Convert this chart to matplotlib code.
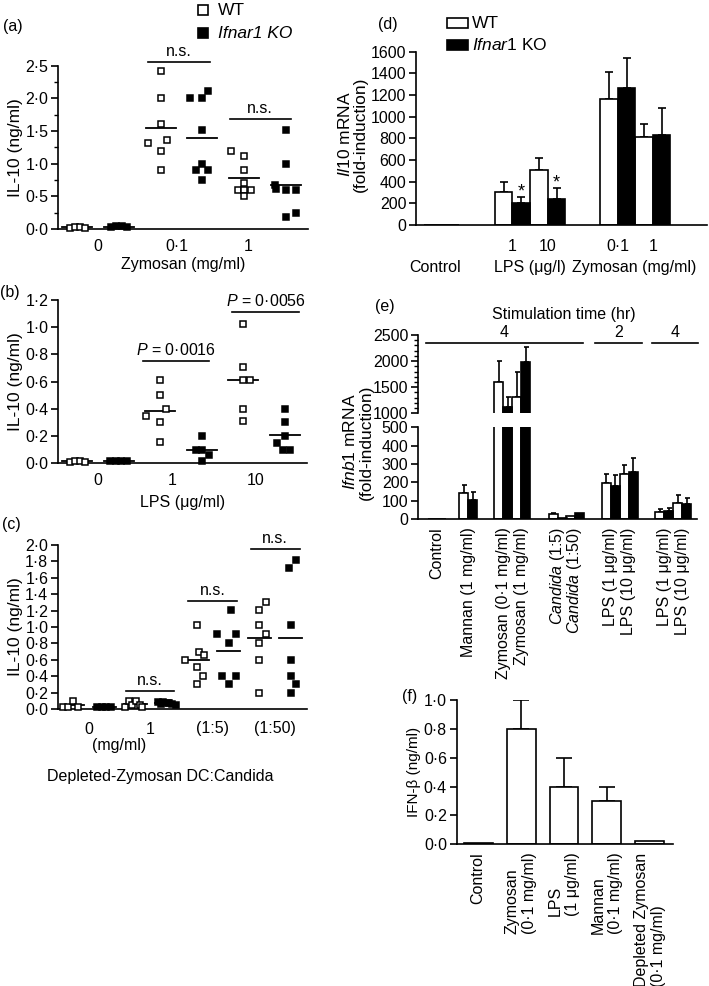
import numpy as np
import matplotlib
matplotlib.use('Agg')
import matplotlib.pyplot as plt
from matplotlib.patches import Rectangle
from matplotlib.ticker import MultipleLocator, FuncFormatter

plt.rcParams['font.family'] = ['Liberation Sans', 'DejaVu Sans']
plt.rcParams['font.size'] = 11.5
plt.rcParams['mathtext.fontset'] = 'custom'
plt.rcParams['mathtext.rm'] = 'Liberation Sans'
plt.rcParams['mathtext.it'] = 'Liberation Sans:italic'
plt.rcParams['axes.linewidth'] = 1.2

# ---------------- datos ----------------
# (a) IL-10 (ng/ml), zymosan
a_ticks = ['0', '0·1', '1']
a_wt = [[0.02, 0.03, 0.03, 0.02],
        [2.42, 2.01, 1.61, 1.31, 1.36, 1.20, 0.90],
        [1.20, 1.11, 0.90, 0.70, 0.60, 0.60, 0.60, 0.50]]
a_wt_dx = [[-0.18, -0.06, 0.06, 0.18],
           [0, 0, 0, -0.31, 0.15, 0, 0],
           [-0.31, 0, 0, 0, -0.15, 0, 0.16, 0]]
a_ko = [[0.03, 0.04, 0.04, 0.03],
        [2.01, 2.01, 2.11, 1.51, 0.90, 0.99, 0.90, 0.75],
        [1.51, 1.00, 0.68, 0.62, 0.60, 0.60, 0.19, 0.25]]
a_ko_dx = [[-0.2, -0.07, 0.07, 0.2],
           [-0.3, 0, 0.15, 0, -0.14, 0, 0.15, 0],
           [0, 0, -0.25, -0.22, 0, 0.24, 0, 0.24]]

# (b) IL-10 (ng/ml), LPS
b_ticks = ['0', '1', '10']
b_wt = [[0.01, 0.02, 0.02, 0.01],
        [0.61, 0.50, 0.35, 0.40, 0.30, 0.16],
        [1.02, 0.71, 0.61, 0.61, 0.40, 0.31]]
b_wt_dx = [[-0.18, -0.06, 0.06, 0.18],
           [0, 0, -0.33, 0.14, 0, 0],
           [0, 0, 0, 0.16, 0, 0]]
b_ko = [[0.015, 0.02, 0.02, 0.015],
        [0.20, 0.10, 0.10, 0.06, 0.02],
        [0.40, 0.30, 0.20, 0.15, 0.10, 0.10]]
b_ko_dx = [[-0.2, -0.07, 0.07, 0.2],
           [0, -0.14, 0.02, 0.17, 0],
           [0, 0, 0, -0.19, -0.03, 0.14]]

# (c) IL-10 (ng/ml), depleted zymosan / Candida
c_ticks = ['0', '1', '(1:5)', '(1:50)']
c_wt = [[0.02, 0.03, 0.10, 0.03],
        [0.03, 0.10, 0.05, 0.10, 0.05, 0.03],
        [1.02, 0.70, 0.66, 0.60, 0.51, 0.40, 0.30],
        [1.21, 1.31, 1.02, 0.91, 0.81, 0.60, 0.20]]
c_wt_dx = [[-0.32, -0.16, 0, 0.16],
           [-0.32, -0.21, -0.11, 0.03, 0.16, 0.22],
           [0, 0.04, 0.22, -0.41, 0, 0.19, 0],
           [0, 0.21, 0, 0.21, 0, 0, 0]]
c_ko = [[0.02, 0.02, 0.02, 0.02],
        [0.09, 0.08, 0.07, 0.06, 0.05, 0.06, 0.07],
        [0.91, 0.91, 0.81, 1.21, 0.40, 0.40, 0.30],
        [1.82, 1.72, 1.02, 0.60, 0.40, 0.30, 0.20]]
c_ko_dx = [[-0.24, -0.08, 0.08, 0.24],
           [-0.25, -0.1, 0.05, 0.18, 0.3, -0.18, 0.1],
           [-0.38, 0.25, 0.03, 0.08, -0.22, 0.25, 0.03],
           [0.18, -0.05, 0, 0, 0, 0.18, 0]]

# (d) Il10 mRNA (fold-induction)
d_groups = ['Control', 'LPS 1', 'LPS 10', 'Zymosan 0.1', 'Zymosan 1']
d_ticks = ['', '1', '10', '0·1', '1']
d_wt = [0, 302, 508, 1163, 815]
d_wt_err = [0, 98, 114, 252, 117]
d_ko = [0, 206, 237, 1268, 831]
d_ko_err = [0, 56, 108, 270, 246]
d_star = [False, True, True, False, False]

# (e) Ifnb1 mRNA (fold-induction)
e_labels = ['Control', 'Mannan (1 mg/ml)', 'Zymosan (0·1 mg/ml)',
            'Zymosan (1 mg/ml)', r'$\it{Candida}$ (1:5)', r'$\it{Candida}$ (1:50)',
            'LPS (1 μg/ml)', 'LPS (10 μg/ml)', 'LPS (1 μg/ml)', 'LPS (10 μg/ml)']
e_wt = [0, 140, 1606, 1306, 25, 18, 198, 245, 38, 87]
e_wt_err = [0, 45, 396, 492, 6, 0, 46, 50, 17, 44]
e_ko = [0, 104, 1128, 1989, 4, 35, 180, 256, 45, 80]
e_ko_err = [0, 45, 191, 288, 0, 0, 60, 79, 17, 33]
e_times = ['4', '2', '4']

# (f) IFN-beta (ng/ml)
f_labels = ['Control', 'Zymosan\n(0·1 mg/ml)', 'LPS\n(1 μg/ml)',
            'Mannan\n(0·1 mg/ml)', 'Depleted Zymosan\n(0·1 mg/ml)']
f_vals = [0.01, 0.80, 0.40, 0.30, 0.02]
f_err = [0, 0.20, 0.20, 0.10, 0]

# ---------------- figura ----------------
W, H = 709, 986
fig = plt.figure(figsize=(W / 100, H / 100), dpi=100)


def ejes(l, t, r, b):
    return fig.add_axes([l / W, 1 - b / H, (r - l) / W, (b - t) / H])


def estilo(ax, xpad=7):
    for s in ['top', 'right']:
        ax.spines[s].set_visible(False)
    ax.tick_params(axis='y', which='major', direction='out', length=5, width=1.2, pad=2)
    ax.tick_params(axis='y', which='minor', direction='out', length=3, width=1.0)
    ax.tick_params(axis='x', length=0, pad=xpad)


punto = FuncFormatter(lambda v, p: f'{v:.1f}'.replace('.', '·'))


def dispersion(ax, wt, wt_dx, ko, ko_dx, half):
    for i in range(len(wt)):
        for j, (vals, dx, fc) in enumerate([(wt[i], wt_dx[i], 'white'), (ko[i], ko_dx[i], 'black')]):
            c = 2 * i + 1 + j
            ax.plot(c + np.array(dx), vals, 's', ms=4.3, mfc=fc, mec='black', mew=1.1,
                    clip_on=False, zorder=3)
            m = np.mean(vals)
            ax.plot([c - half, c + half], [m, m], color='black', lw=1.3, zorder=2, clip_on=False)


def barra_sig(ax, x0, x1, y, txt):
    ax.plot([x0, x1], [y, y], color='black', lw=1.2, clip_on=False)
    ax.annotate(txt, xy=((x0 + x1) / 2, y), xytext=(0, 2), textcoords='offset points',
                ha='center', va='bottom', annotation_clip=False)


# (a)
ax = ejes(58, 65.7, 308, 229)
estilo(ax)
dispersion(ax, a_wt, a_wt_dx, a_ko, a_ko_dx, 0.36)
ax.set_xlim(0.54, 6.54)
ax.set_ylim(0, 2.5)
ax.yaxis.set_major_locator(MultipleLocator(0.5))
ax.yaxis.set_minor_locator(MultipleLocator(0.25))
ax.yaxis.set_major_formatter(punto)
ax.set_xticks([1.5, 3.4, 5.1], a_ticks)
ax.set_xlabel('Zymosan (mg/ml)', labelpad=2)
ax.set_ylabel('IL-10 (ng/ml)', fontsize=12.5)
ax.yaxis.set_label_coords(-0.14, 0.5)
barra_sig(ax, 2.71, 4.18, 2.56, 'n.s.')
barra_sig(ax, 4.66, 6.12, 1.68, 'n.s.')
ax.plot([0.58], [1.34], 's', ms=6.5, mfc='white', mec='black', mew=1.2,
        transform=ax.transAxes, clip_on=False)
ax.plot([0.58], [1.20], 's', ms=6.5, mfc='black', mec='black', mew=1.2,
        transform=ax.transAxes, clip_on=False)
ax.text(0.64, 1.34, 'WT', transform=ax.transAxes, va='center', fontsize=12.5)
ax.text(0.64, 1.20, 'Ifnar1 KO', transform=ax.transAxes, va='center', fontsize=12.5, style='italic')

# (b)
ax = ejes(58, 300, 307, 463.3)
estilo(ax)
dispersion(ax, b_wt, b_wt_dx, b_ko, b_ko_dx, 0.36)
ax.set_xlim(0.54, 6.54)
ax.set_ylim(0, 1.2)
ax.yaxis.set_major_locator(MultipleLocator(0.2))
ax.yaxis.set_major_formatter(punto)
ax.set_xticks([1.5, 3.3, 5.3], b_ticks)
ax.set_xlabel('LPS (μg/ml)', labelpad=5)
ax.set_ylabel('IL-10 (ng/ml)', fontsize=12.5)
ax.yaxis.set_label_coords(-0.14, 0.5)
barra_sig(ax, 2.59, 4.19, 0.75, r'$\it{P}$ = 0·0016')
barra_sig(ax, 4.74, 6.35, 1.11, r'$\it{P}$ = 0·0056')

# (c)
ax = ejes(58, 545, 307, 709)
estilo(ax, xpad=9)
dispersion(ax, c_wt, c_wt_dx, c_ko, c_ko_dx, 0.37)
ax.set_xlim(0.52, 8.53)
ax.set_ylim(0, 2.0)
ax.yaxis.set_major_locator(MultipleLocator(0.2))
ax.yaxis.set_major_formatter(punto)
ax.set_xticks([1.5, 3.5, 5.5, 7.5], c_ticks)
ax.set_ylabel('IL-10 (ng/ml)', fontsize=12.5)
ax.yaxis.set_label_coords(-0.14, 0.5)
ax.text(2.5, -0.22, '(mg/ml)', transform=ax.get_xaxis_transform(), ha='center', va='center')
ax.text(0.41, -0.41, 'Depleted-Zymosan DC:Candida', transform=ax.transAxes,
        ha='center', va='center')
barra_sig(ax, 2.70, 4.25, 0.22, 'n.s.')
barra_sig(ax, 4.71, 6.29, 1.32, 'n.s.')
barra_sig(ax, 6.72, 8.29, 1.95, 'n.s.')


def barras(ax, x, wt, wt_err, ko, ko_err, cap):
    x = np.array(x, dtype=float)
    ax.bar(x - 0.5, wt, width=1, color='white', edgecolor='black', lw=1.2, zorder=2)
    ax.bar(x + 0.5, ko, width=1, color='black', edgecolor='black', lw=1.2, zorder=2)
    for xs, v, e in [(x - 0.5, wt, wt_err), (x + 0.5, ko, ko_err)]:
        v = np.array(v, dtype=float)
        e = np.array(e, dtype=float)
        k = e > 0
        ax.errorbar(xs[k], v[k], yerr=[np.zeros(k.sum()), e[k]], fmt='none', ecolor='black',
                    elinewidth=1.2, capsize=cap, capthick=1.2, zorder=1)


# (d)
d_x = [-4, 0, 2, 5.95, 7.93]
ax = ejes(416, 51.7, 707, 225)
estilo(ax, xpad=10)
barras(ax, d_x, d_wt, d_wt_err, d_ko, d_ko_err, 3)
ax.set_xlim(-5.45, 11.0)
ax.set_ylim(0, 1600)
ax.yaxis.set_major_locator(MultipleLocator(200))
ax.set_xticks(d_x[1:], d_ticks[1:])
for xx, lab in [(-4.4, 'Control'), (1.0, 'LPS (μg/l)'), (6.9, 'Zymosan (mg/ml)')]:
    ax.text(xx, -0.243, lab, transform=ax.get_xaxis_transform(), ha='center', va='center')
for i, s in enumerate(d_star):
    if s:
        ax.text(d_x[i] + 0.5, d_ko[i] + d_ko_err[i], '*', ha='center', va='baseline', fontsize=13)
fig.text(345 / W, 1 - 134 / H, r'$\it{Il10}$ mRNA', rotation=90, ha='center', va='center', fontsize=12.5)
fig.text(360 / W, 1 - 134 / H, '(fold-induction)', rotation=90, ha='center', va='center', fontsize=12.5)
fig.add_artist(Rectangle((447 / W, 1 - 28 / H), 21 / W, 10 / H, transform=fig.transFigure,
                         fc='white', ec='black', lw=1.2))
fig.add_artist(Rectangle((447 / W, 1 - 50 / H), 21 / W, 10 / H, transform=fig.transFigure,
                         fc='black', ec='black', lw=1.2))
fig.text(472 / W, 1 - 23 / H, 'WT', va='center', fontsize=12.5)
fig.text(472 / W, 1 - 45 / H, r'$\it{Ifnar1}$ KO', va='center', fontsize=12.5)

# (e) eje partido
e_x = [0, 3.5, 7.4, 9.35, 13.4, 15.3, 19.3, 21.3, 25.2, 27.2]
ax_u = ejes(418, 335, 697, 413.3)
ax_l = ejes(418, 427.3, 697, 519)
for ax in (ax_u, ax_l):
    estilo(ax, xpad=6)
    barras(ax, e_x, e_wt, e_wt_err, e_ko, e_ko_err, 1.8)
    ax.set_xlim(-2.07, 28.85)
ax_u.spines['bottom'].set_visible(False)
ax_u.set_xticks([])
ax_u.set_ylim(1000, 2500)
ax_u.yaxis.set_major_locator(MultipleLocator(500))
ax_u.yaxis.set_minor_locator(MultipleLocator(100))
ax_l.set_ylim(0, 500)
ax_l.yaxis.set_major_locator(MultipleLocator(100))
ax_l.set_xticks(e_x, e_labels, rotation=90, va='top', ha='center')
for (x0, x1), t in zip([(-1.2, 16.2), (17.6, 22.7), (23.9, 28.96)], e_times):
    ax_u.plot([x0, x1], [2347, 2347], color='black', lw=1.2, clip_on=False)
    ax_u.annotate(t, xy=((x0 + x1) / 2, 2347), xytext=(0, 2), textcoords='offset points',
                  ha='center', va='bottom', annotation_clip=False)
ax_u.text(14.06, 1 + 20 / 78.3, 'Stimulation time (hr)', transform=ax_u.get_xaxis_transform(),
          ha='center', va='center')
fig.text(350 / W, 1 - 442 / H, r'$\it{Ifnb1}$ mRNA', rotation=90, ha='center', va='center', fontsize=12.5)
fig.text(366 / W, 1 - 442 / H, '(fold-induction)', rotation=90, ha='center', va='center', fontsize=12.5)

# (f)
ax = ejes(456.7, 700, 673, 844.3)
estilo(ax, xpad=6)
f_x = np.arange(len(f_vals))
ax.bar(f_x, f_vals, width=0.675, color='white', edgecolor='black', lw=1.2, zorder=2)
ax.errorbar(f_x[1:4], f_vals[1:4], yerr=[np.zeros(3), f_err[1:4]], fmt='none', ecolor='black',
            elinewidth=1.2, capsize=6, capthick=1.2, zorder=1)
ax.set_xlim(-0.5, 4.54)
ax.set_ylim(0, 1.0)
ax.yaxis.set_major_locator(MultipleLocator(0.2))
ax.yaxis.set_major_formatter(punto)
ax.set_xticks(f_x, f_labels, rotation=90, va='top', ha='center', multialignment='left')
ax.set_ylabel('IFN-β (ng/ml)', fontsize=11)
ax.yaxis.set_label_coords(-0.165, 0.5)

# etiquetas de panel
for lab, x, y in [('(a)', 13, 27), ('(b)', 10, 292), ('(c)', 11, 524),
                  ('(d)', 388, 24), ('(e)', 385, 306), ('(f)', 410, 697)]:
    fig.text(x / W, 1 - y / H, lab, ha='center', va='center', fontsize=11.5)

fig.savefig('out.png', dpi=100)
